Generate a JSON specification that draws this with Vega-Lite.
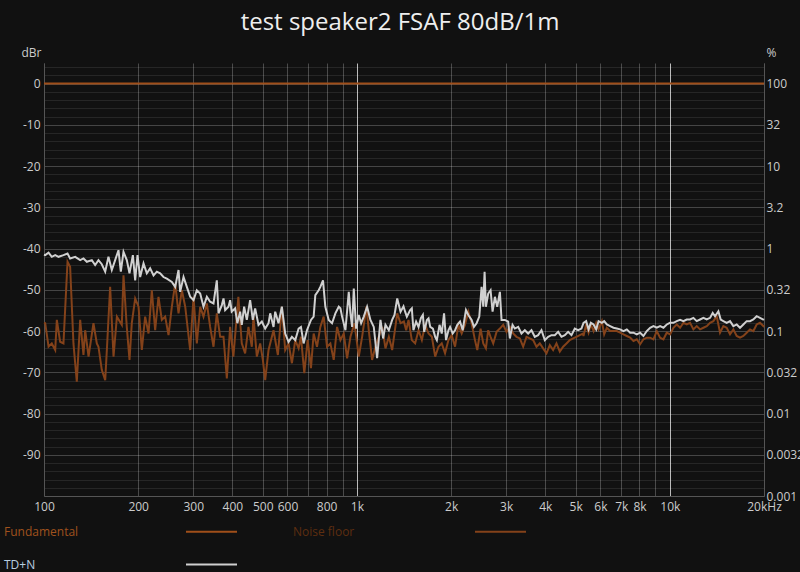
{
"$schema": "https://vega.github.io/schema/vega-lite/v6.json",
"width": 720, "height": 433,
"autosize": {"type": "none"},
"padding": {"left": 44, "top": 63, "right": 36, "bottom": 76},
"background": "#111111",
"title": {"text": "test speaker2 FSAF 80dB/1m", "color": "#eeeeee", "fontSize": 24, "font": "Open Sans", "fontWeight": "normal", "offset": -8, "dx": -4, "baseline": "alphabetic"},
"config": {"view": {"stroke": null}, "font": "Open Sans"},
"datasets": {
"fund": [{"f":100,"db":0},{"f":20000,"db":0}],
"noise": [[100,-58],[100.9,-58.1],[103.4,-63.8],[105.9,-63],[108.6,-64.6],[109.9,-57.3],[112.6,-62.6],[115.4,-63],[118.9,-43.2],[121.2,-44.4],[124.2,-63],[127.3,-72.3],[130.5,-57.3],[133.7,-65.8],[135.4,-59.8],[138.8,-66.2],[143.9,-58.1],[147.5,-63],[149.3,-63.8],[153,-69.4],[156.9,-71.9],[158.8,-64.6],[162.7,-49.3],[166.8,-66.2],[171,-56.5],[177.3,-58.5],[179.5,-46.5],[183.9,-59],[187.6,-67],[190.8,-58.1],[195.6,-52.1],[200.5,-54.1],[205.4,-64.6],[210.5,-56.5],[215.8,-60.6],[221.1,-50.1],[226.6,-59.8],[232.2,-51.7],[238,-57.3],[243.9,-56.5],[250,-61],[256.2,-54.1],[262.6,-48.5],[269.1,-55.7],[275.8,-50.1],[282.7,-54.1],[293.2,-64.6],[300.5,-51.7],[307.9,-63],[315.6,-54.1],[323.4,-56.5],[331.5,-53.3],[339.6,-59],[348.1,-63.8],[356.7,-55.7],[365.6,-61.4],
[374.7,-61.4],[384,-71.5],[393.4,-59],[402.9,-66.2],[418,-51.7],[428.6,-63],[439.3,-65.4],[450.2,-59],[461.5,-63.8],[467.1,-56.5],[478.9,-66.2],[490.8,-63],[500.5,-67],[509.2,-71.9],[521.9,-64.6],[541.4,-59.8],[559,-65.8],[575.7,-54.1],[590,-64.6],[604.8,-63],[619.9,-67.8],[635.4,-62.2],[651.2,-64.2],[662.5,-61.4],[679,-70.2],[695.9,-62.2],[713.2,-69],[727.4,-60.6],[745.5,-63.8],[764.1,-59],[783.1,-56.5],[802.6,-63.8],[822.6,-63],[843.1,-67],[864.2,-59],[885.7,-62.2],[907.8,-60.6],[930.4,-66.6],[953.6,-61.4],[982.1,-58.1],[1013.9,-66.2],[1039.1,-61.4],[1072.6,-54.1],[1091.2,-59.8],[1118.4,-67],[1146.2,-63.8],[1174.8,-61.4],[1204,-59],[1233.9,-64.2],[1264.9,-61.4],[1296.3,-64.6],[1345.4,-55.7],[1378.8,-58.1],[1413,-57.7],
[1437,-59.8],[1462,-57.3],[1498,-62.2],[1535,-63],[1574,-59.8],[1613,-62.2],[1653,-58.5],[1694,-60.6],[1736,-61.4],[1779,-66.2],[1823,-63.8],[1867,-63],[1913,-65.4],[1961,-62.2],[2009,-61],[2059,-63.8],[2110,-58.5],[2162,-60.6],[2215,-58.5],[2270,-55.3],[2326,-58.1],[2384,-62.2],[2425,-64.6],[2485,-59.4],[2534,-63],[2584,-64.2],[2628,-59.8],[2674,-61.4],[2727,-63],[2795,-60.2],[2864,-59.4],[2935,-58.5],[3007,-60.2],[3082,-59],[3158,-60.6],[3236,-61.4],[3317,-61.8],[3399,-63.8],[3483,-61.4],[3569,-61.8],[3658,-62.2],[3749,-63.8],[3842,-63],[3937,-64.2],[4035,-65.4],[4135,-63.4],[4238,-64.6],[4343,-63],[4451,-65],[4561,-63.8],[4675,-63],[4790,-62.2],[4909,-61.8],[5031,-61.4],[5156,-61],[5284,-60.6],
[5299,-61.2],[5403,-58.4],[5500,-60.4],[5594,-58.4],[5705,-60],[5818,-58],[5919,-59.6],[6065,-57.6],[6170,-60.8],[6292,-59.2],[6447,-60],[6607,-60],[6771,-60],[6939,-60.4],[7111,-60.8],[7287,-61.2],[7468,-61.6],[7653,-62.4],[7843,-62],[8037,-63.2],[8236,-62],[8441,-61.6],[8650,-61.6],[8865,-62],[9085,-60],[9310,-61.6],[9541,-62],[9778,-60.4],[10021,-60.8],[10270,-59.2],[10524,-58.4],[10786,-59.2],[11053,-58],[11327,-58.4],[11608,-58],[11896,-59.6],[12191,-58.8],[12494,-59.6],[12804,-59.2],[13121,-58.8],[13447,-58],[13780,-57.6],[14122,-56.4],[14473,-60.4],[14831,-58.8],[15199,-59.2],[15576,-60.8],[15963,-59.6],[16359,-61.2],[16764,-61.6],[17180,-61.2],[17607,-60.4],[18044,-59.6],[18491,-60],[18950,-58.4],[19420,-58],[19902,-58.8],[20000,-58.5]],
"tdn": [[100,-41.5],[100.9,-41.6],[103.4,-41],[105.9,-42],[108.6,-41.6],[111.3,-42],[115.4,-41.6],[118.9,-41.2],[121.2,-42.4],[125.8,-42],[130.5,-42.8],[133.7,-42.4],[137.1,-43.2],[142.2,-42.8],[145.7,-44],[149.3,-42.8],[153,-43.8],[156.9,-45.6],[160.7,-42],[164.7,-45.2],[168.8,-42.8],[173,-40.4],[176,-45.6],[179.5,-40.8],[183.9,-42.8],[187.6,-46],[192.3,-41.6],[195.6,-47.7],[199,-41.6],[202.9,-46.9],[208,-43.6],[213.1,-46],[218.4,-44.8],[223.9,-46.5],[229.4,-45.6],[235.1,-46],[240.9,-46.9],[246.9,-47.3],[256.2,-48.1],[262.6,-49.3],[269.1,-45.2],[272.4,-50.5],[279.2,-46.9],[286.1,-49.3],[293.2,-51.7],[300.5,-52.5],[307.9,-50.1],[315.6,-50.9],[323.4,-54.1],[331.5,-51.7],[339.6,-52.9],[348.1,-53.3],[356.7,-47.7],[361.2,-55.7],[370.1,-53.7],
[374.7,-52.1],[379.3,-54.9],[388.7,-54.1],[393.4,-52.5],[398,-55.3],[408,-54.5],[414.9,-58.1],[423.5,-55.3],[428.6,-58.5],[436.1,-54.1],[444.8,-57.3],[455.8,-52.5],[464.9,-57.3],[472.9,-54.5],[484.8,-58.5],[496.8,-57.7],[509.2,-59.4],[521.9,-58.1],[528.3,-55.7],[541.4,-59],[548.1,-55.3],[561.7,-58.1],[575.7,-54.1],[590,-60.6],[604.8,-62.6],[619.9,-61.4],[635.4,-62.2],[651.2,-59.4],[662.5,-59],[675.6,-63],[692.5,-59.8],[713.2,-57.3],[727.4,-56.5],[736.4,-51.3],[754.7,-50.1],[764.1,-49.3],[779.2,-47.7],[792.8,-54.1],[812.5,-57.3],[832.8,-58.1],[853.5,-55.7],[874.9,-54.1],[885.7,-54.5],[896.7,-56.5],[919,-59.8],[941.9,-50.5],[953.6,-55.7],[965.4,-59],[977.3,-49.7],[994.2,-59.4],[1013.9,-56.1],[1031.5,-58.1],[1051.9,-56.5],[1077.9,-54.1],[1104.7,-57.3],[1132.2,-59],[1160.4,-66.6],[1189.3,-57.3],[1212.9,-61.8],[1233.9,-58.5],[1264.9,-59.8],[1296.3,-57.3],[1318.8,-56.1],[1345.4,-52.1],[1378.8,-55.3],[1409,-54],
[1426,-55.3],[1444,-56.5],[1480,-54.9],[1498,-54.5],[1516,-59.8],[1546,-57.7],[1574,-59],[1601,-56.9],[1625,-56.1],[1641,-60.2],[1674,-57.3],[1694,-56.9],[1715,-59],[1749,-59.4],[1779,-61.4],[1801,-62.2],[1837,-58.5],[1867,-60.6],[1899,-55.7],[1927,-62.2],[1961,-59.8],[1985,-59],[2024,-60.6],[2059,-59.8],[2094,-58.5],[2136,-57.7],[2178,-59.8],[2231,-54.9],[2270,-56.1],[2326,-57.3],[2366,-59],[2413,-58.1],[2461,-56.5],[2503,-49.3],[2534,-54.1],[2559,-45.6],[2584,-54.1],[2628,-50.9],[2674,-50.1],[2714,-55.3],[2761,-51.7],[2808,-54.1],[2864,-50.5],[2899,-57.3],[2971,-57.3],[3044,-57.7],[3082,-61.8],[3143,-58.5],[3197,-59.4],[3276,-59],[3357,-60.6],[3441,-59.8],[3526,-60.6],[3613,-59.8],[3703,-61.4],[3795,-61],[3889,-59.8],[3986,-62.2],[4085,-61.4],[4186,-61],[4290,-61],[4397,-60.2],[4506,-61.4],[4618,-61],[4732,-60.2],[4850,-61],[4970,-59.4],[5093,-59.8],[5219,-59.4],
[5299,-58],[5403,-57.6],[5500,-59.6],[5594,-58],[5705,-58.4],[5818,-59.6],[5919,-57.6],[6065,-58],[6170,-57.6],[6292,-58.4],[6447,-58.8],[6607,-59.2],[6771,-59.4],[6939,-59.6],[7111,-60],[7287,-59.6],[7468,-60.4],[7653,-60.4],[7843,-60.8],[8037,-60.4],[8236,-61.2],[8441,-60],[8650,-59.2],[8865,-58.8],[9085,-59.2],[9310,-58.8],[9541,-59.2],[9778,-58.4],[10021,-58],[10270,-58],[10524,-57.6],[10786,-57.3],[11053,-57.6],[11327,-57.2],[11608,-57.2],[11896,-56.8],[12191,-57.6],[12494,-57.2],[12804,-56.8],[13121,-57.2],[13447,-56.8],[13713,-55.6],[13949,-56.4],[14295,-55.2],[14544,-57.2],[14831,-57.6],[15199,-58],[15576,-57.6],[15963,-58.8],[16359,-58.4],[16764,-59.2],[17180,-58.4],[17607,-57.6],[18044,-57.6],[18491,-57.2],[18950,-56.4],[19420,-56.8],[19902,-57.2],[20000,-57.3]]
},
"data": {"name": "fund"},
"layer": [
 {
  "data": {"name": "fund"},
  "transform": [{"calculate": "'Fundamental'", "as": "s"}],
  "mark": {"type": "line", "strokeWidth": 2},
  "encoding": {
   "x": {"field": "f", "type": "quantitative",
     "scale": {"type": "log", "domain": [100, 20000], "nice": false},
     "axis": {"orient": "bottom", "title": null,
       "values": [100,200,300,400,500,600,700,800,900,1000,2000,3000,4000,5000,6000,7000,8000,9000,10000,20000],
       "labelExpr": "datum.value == 700 || datum.value == 900 || datum.value == 9000 ? '' : datum.value == 20000 ? '20kHz' : datum.value >= 1000 ? (datum.value / 1000) + 'k' : '' + datum.value",
       "ticks": false, "labelPadding": 5, "labelColor": "#cccccc", "labelFontSize": 12, "labelFlush": false, "labelOverlap": false,
       "domainColor": "#555555",
       "gridColor": {"condition": {"test": "datum.value == 1000 || datum.value == 10000", "value": "#bbbbbb"}, "value": "#4a4a4a"}}},
   "y": {"field": "db", "type": "quantitative",
     "scale": {"domain": [-100, 5], "nice": false, "zero": false},
     "axis": {"orient": "left", "title": "dBr", "titleAngle": 0, "titleX": -13, "titleY": -11, "titleAlign": "center", "titleBaseline": "middle",
       "titleColor": "#cccccc", "titleFontSize": 12, "titleFontWeight": "normal",
       "values": [4,2,0,-2,-4,-6,-8,-10,-12,-14,-16,-18,-20,-22,-24,-26,-28,-30,-32,-34,-36,-38,-40,-42,-44,-46,-48,-50,-52,-54,-56,-58,-60,-62,-64,-66,-68,-70,-72,-74,-76,-78,-80,-82,-84,-86,-88,-90,-92,-94,-96,-98],
       "labelExpr": "datum.value % 10 == 0 ? '' + datum.value : ''",
       "ticks": false, "labelPadding": 4, "labelColor": "#cccccc", "labelFontSize": 12, "labelFlush": false, "labelOverlap": false,
       "domainColor": "#555555",
       "gridColor": {"condition": {"test": "datum.value % 10 == 0", "value": "rgba(255,255,255,0.22)"}, "value": "rgba(255,255,255,0.09)"}}},
   "color": {"field": "s", "type": "nominal",
     "scale": {"domain": ["Fundamental", "Noise floor", "TD+N"], "range": ["#a04f1a", "#84421a", "#d0d0d0"]},
     "legend": {"orient": "none", "legendX": -39, "legendY": 442, "title": null, "columns": 2, "direction": "horizontal",
       "symbolType": "stroke", "symbolSize": 2601, "symbolStrokeWidth": 2, "symbolOffset": 180, "labelOffset": -234,
       "rowPadding": -32, "columnPadding": 52, "labelFontSize": 12, "labelFont": "Open Sans", "labelLimit": 0, "padding": 0,
       "encode": {"labels": {"update": {"fill": {"signal": "datum.label == 'Fundamental' ? '#a0521d' : datum.label == 'Noise floor' ? '#5e2e10' : '#b8cde0'"}}}}}}
  }
 },
 {
  "data": {"name": "noise"},
  "transform": [{"calculate": "datum[0]", "as": "f"}, {"calculate": "datum[1]", "as": "db"}, {"calculate": "'Noise floor'", "as": "s"}],
  "mark": {"type": "line", "strokeWidth": 2},
  "encoding": {"x": {"field": "f", "type": "quantitative"}, "y": {"field": "db", "type": "quantitative", "axis": null}, "color": {"field": "s", "type": "nominal"}}
 },
 {
  "data": {"name": "tdn"},
  "transform": [{"calculate": "datum[0]", "as": "f"}, {"calculate": "datum[1]", "as": "db"}, {"calculate": "'TD+N'", "as": "s"}],
  "mark": {"type": "line", "strokeWidth": 2},
  "encoding": {"x": {"field": "f", "type": "quantitative"}, "y": {"field": "db", "type": "quantitative", "axis": null}, "color": {"field": "s", "type": "nominal"}}
 },
 {
  "data": {"name": "fund"},
  "mark": {"type": "line", "opacity": 0},
  "encoding": {"x": {"field": "f", "type": "quantitative"},
   "y": {"field": "db", "type": "quantitative",
     "axis": {"orient": "right", "title": "%", "titleAngle": 0, "titleX": 7, "titleY": -11, "titleAlign": "center", "titleBaseline": "middle",
       "titleColor": "#cccccc", "titleFontSize": 12, "titleFontWeight": "normal",
       "values": [0,-10,-20,-30,-40,-50,-60,-70,-80,-90,-100],
       "labelExpr": "format(pow(10, datum.value / 20) * 100, '.2~r')",
       "grid": false, "ticks": false, "labelPadding": 2, "labelColor": "#cccccc", "labelFontSize": 12, "labelFlush": false, "labelOverlap": false,
       "domainColor": "#555555"}}}
 }
],
"resolve": {"axis": {"y": "independent"}}
}
